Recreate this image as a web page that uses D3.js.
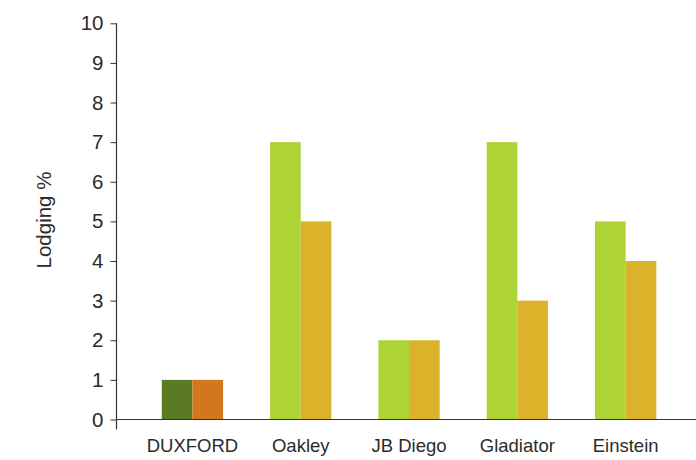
<!DOCTYPE html>
<html><head><meta charset="utf-8">
<script src="https://cdn.jsdelivr.net/npm/d3@7"></script>
<style>body{margin:0;background:#fff}svg{display:block}text{font-family:"Liberation Sans",Arial,sans-serif;fill:#2b2b2b}</style>
</head><body>
<svg id="c" width="696" height="460"></svg>
<script>
const categories = ["DUXFORD", "Oakley", "JB Diego", "Gladiator", "Einstein"];
const series1 = [1, 7, 2, 7, 5];
const series2 = [1, 5, 2, 3, 4];
const colors1 = ["#5b7a24", "#add334", "#add334", "#add334", "#add334"];
const colors2 = ["#d3771e", "#dbb32b", "#dbb32b", "#dbb32b", "#dbb32b"];
const yTicks = [0,1,2,3,4,5,6,7,8,9,10];

const svg = d3.select("#c");
const y = d3.scaleLinear().domain([0,10]).range([419.5, 23.3]);
const x = d3.scaleBand().domain(categories).range([138.3, 679.8]).paddingInner(0.434).paddingOuter(0.217);
const xs = d3.scaleBand().domain([0,1]).range([0, x.bandwidth()]);

const g = svg.append("g");
categories.forEach((c,i)=>{
  [[series1,colors1],[series2,colors2]].forEach(([s,col],k)=>{
    g.append("rect").attr("x", x(c)+xs(k)).attr("width", xs.bandwidth())
     .attr("y", y(s[i])).attr("height", y(0)-y(s[i])).attr("fill", col[i]);
  });
});

const ya = svg.append("g").attr("transform","translate(116.5,0)")
  .call(d3.axisLeft(y).tickValues(yTicks).tickSize(6).tickPadding(7).tickSizeOuter(0));
ya.select(".domain").remove();
ya.selectAll("line").attr("stroke","#333");
ya.selectAll("text").attr("font-size",20.5).style("font-family","Liberation Sans, Arial, sans-serif").attr("fill","#2b2b2b");
svg.append("line").attr("x1",116.5).attr("x2",116.5).attr("y1",y(10)).attr("y2",y(0)+10).attr("stroke","#333").attr("stroke-width",1.2);
svg.append("line").attr("x1",116).attr("x2",696).attr("y1",y(0)).attr("y2",y(0)).attr("stroke","#333").attr("stroke-width",1.2);

svg.append("g").selectAll("text").data(categories).join("text")
  .attr("x", d=>x(d)+x.bandwidth()/2).attr("y", 451.5).attr("text-anchor","middle")
  .attr("font-size",18.5).text(d=>d);

svg.append("text").attr("transform","translate(51,220) rotate(-90)").attr("text-anchor","middle")
  .attr("font-size",20.5).text("Lodging %");
</script>
</body></html>
